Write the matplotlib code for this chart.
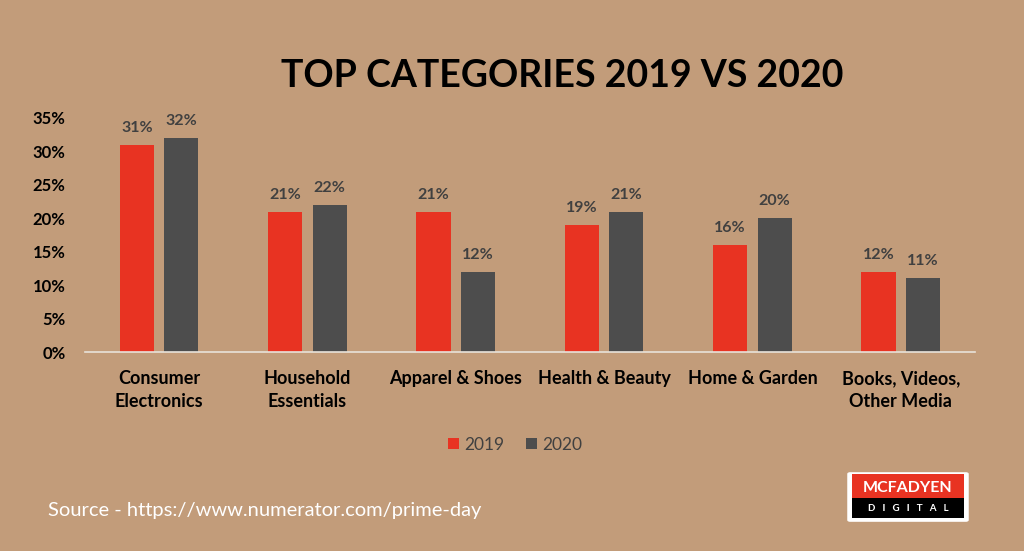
import numpy as np
import matplotlib.pyplot as plt
from matplotlib.patches import FancyBboxPatch, Rectangle

categories = ["Consumer\nElectronics", "Household\nEssentials", "Apparel & Shoes",
              "Health & Beauty", "Home & Garden", "Books, Videos,\nOther Media"]
vals_2019 = [31, 21, 21, 19, 16, 12]
vals_2020 = [32, 22, 12, 21, 20, 11]
yticks = [0, 5, 10, 15, 20, 25, 30, 35]

BG = "#C29C7A"
RED = "#E83322"
GRAY = "#4D4D4D"
LABEL = "#404040"
FONT = ["Lato", "DejaVu Sans"]

plt.rcParams['font.family'] = FONT

fig = plt.figure(figsize=(10.24, 5.51), dpi=100)
fig.patch.set_facecolor(BG)
ax = fig.add_axes([0.083, 0.361, 0.869, 0.425])
ax.set_facecolor(BG)

x = np.arange(len(categories))
w = 0.23
off = 0.15
b1 = ax.bar(x - off, vals_2019, w, color=RED, label="2019")
b2 = ax.bar(x + off, vals_2020, w, color=GRAY, label="2020")

for bars, vals in ((b1, vals_2019), (b2, vals_2020)):
    for b, v in zip(bars, vals):
        ax.text(b.get_x() + b.get_width() / 2, v + 1.5, f"{v}%", ha="center", va="bottom",
                fontsize=11.5, fontweight="bold", color=LABEL, clip_on=False)

ax.set_xlim(-0.5, len(categories) - 0.5)
ax.set_ylim(0, 35)
ax.set_yticks(yticks)
ax.set_yticklabels([f"{t}%" for t in yticks], fontsize=12, fontweight="bold")
ax.set_xticks(x)
ax.set_xticklabels(categories, fontsize=13, fontweight="bold", va="top", linespacing=1.45)
ax.tick_params(axis="both", length=0)
ax.tick_params(axis="y", pad=14)
ax.tick_params(axis="x", pad=13)
for s in ["top", "right", "left"]:
    ax.spines[s].set_visible(False)
ax.spines["bottom"].set_color("#E8E2DA")
ax.spines["bottom"].set_linewidth(1.2)

fig.text(0.549, 0.862, "TOP CATEGORIES 2019 VS 2020", ha="center", va="center",
         fontsize=27, fontweight="bold", color="black")

leg = fig.legend(handles=[b1, b2], labels=["2019", "2020"], loc="center",
                 bbox_to_anchor=(0.503, 0.193), ncol=2, frameon=False, fontsize=12.5,
                 handlelength=0.65, handleheight=0.65, handletextpad=0.3, columnspacing=1.2)
for t in leg.get_texts():
    t.set_color(LABEL)

fig.text(0.047, 0.073, "Source - https://www.numerator.com/prime-day", ha="left", va="center",
         fontsize=14.5, color="white")

# logo
logo_x, logo_y, logo_w, logo_h = 850 / 1024, 1 - 520 / 551, 116 / 1024, 46 / 551
fig.patches.append(FancyBboxPatch((logo_x, logo_y), logo_w, logo_h, boxstyle="round,pad=0.002",
                                  transform=fig.transFigure, facecolor="white", edgecolor="white"))
fig.patches.append(Rectangle((logo_x + 0.002, logo_y + 0.004), logo_w - 0.004, logo_h * 0.42,
                             transform=fig.transFigure, facecolor="black"))
fig.patches.append(Rectangle((logo_x + 0.002, logo_y + 0.004 + logo_h * 0.42), logo_w - 0.004, logo_h * 0.53,
                             transform=fig.transFigure, facecolor=RED))
fig.text(logo_x + logo_w / 2, logo_y + logo_h * 0.70, "MCFADYEN", ha="center", va="center",
         fontsize=11.5, fontweight="bold", color="white")
fig.text(logo_x + logo_w / 2, logo_y + logo_h * 0.25, "D   I   G   I   T   A   L", ha="center", va="center",
         fontsize=7, fontweight="bold", color="white")

fig.savefig("out.png", dpi=100, facecolor=BG)
